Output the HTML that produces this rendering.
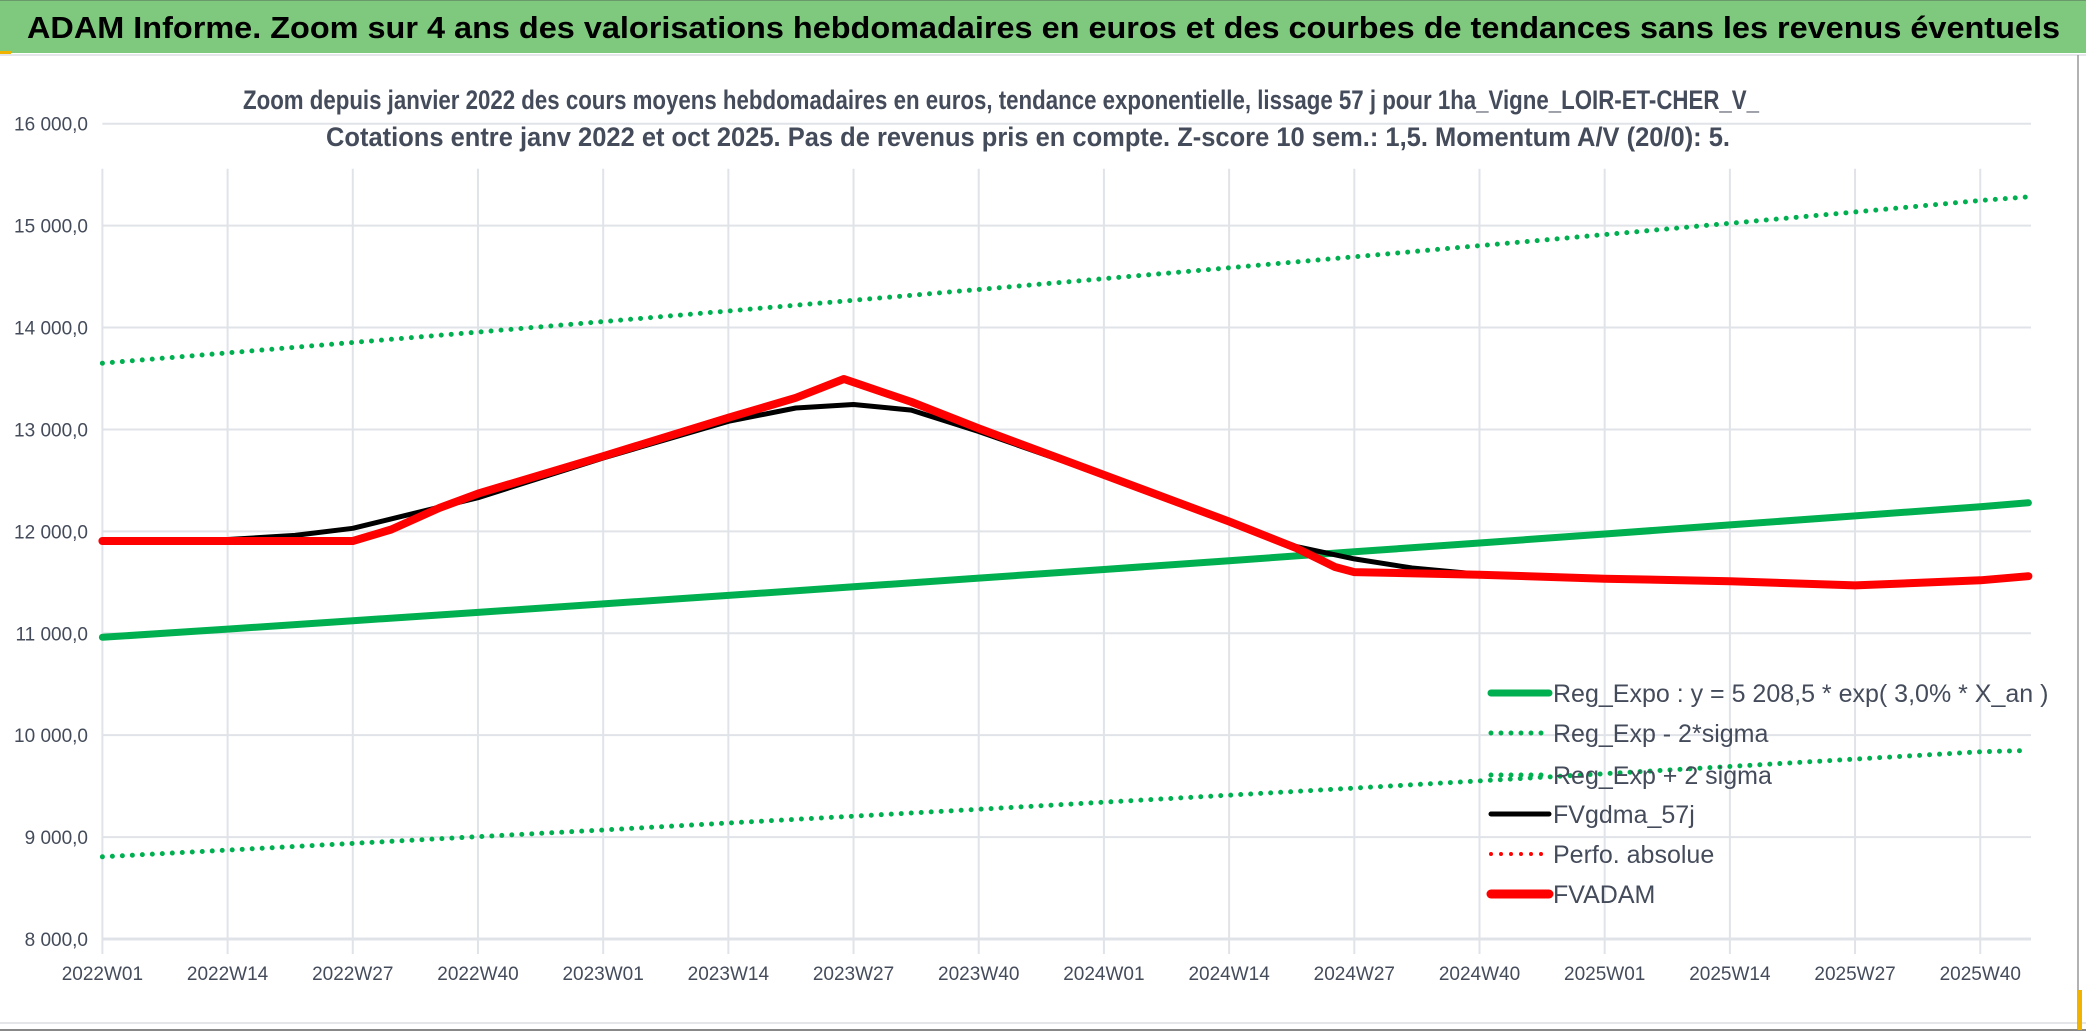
<!DOCTYPE html>
<html><head><meta charset="utf-8"><style>
html,body{margin:0;padding:0;background:#fff}
svg{display:block}
text{font-family:"Liberation Sans",sans-serif}
</style></head><body>
<svg id="chart" width="2086" height="1031" viewBox="0 0 2086 1031" xmlns="http://www.w3.org/2000/svg">
<rect x="0" y="0" width="2086" height="53" fill="#7fc97f"/>
<line x1="0" y1="0.5" x2="2086" y2="0.5" stroke="#6a9a6a" stroke-width="1"/>
<rect x="0" y="51" width="11" height="3" fill="#f0b400"/>
<line x1="0" y1="55" x2="2086" y2="55" stroke="#e4e6ea" stroke-width="2"/>
<text x="27" y="38" font-size="31" font-weight="bold" fill="#000" textLength="2033" lengthAdjust="spacingAndGlyphs">ADAM Informe. Zoom sur 4 ans des valorisations hebdomadaires en euros et des courbes de tendances sans les revenus éventuels</text>
<text x="243" y="109" font-size="27" font-weight="bold" fill="#444b5a" textLength="1516" lengthAdjust="spacingAndGlyphs">Zoom depuis janvier 2022 des cours moyens hebdomadaires en euros, tendance exponentielle, lissage 57 j pour 1ha_Vigne_LOIR-ET-CHER_V_</text>
<text x="326" y="146" font-size="27" font-weight="bold" fill="#444b5a" textLength="1404" lengthAdjust="spacingAndGlyphs">Cotations entre janv 2022 et oct 2025. Pas de revenus pris en compte. Z-score 10 sem.: 1,5. Momentum A/V (20/0): 5.</text>
<g id="grid"></g>
<g id="axes"></g>
<g id="series"></g>
<g id="legend"></g>
<line x1="0" y1="1023" x2="2086" y2="1023" stroke="#e4e6ea" stroke-width="2"/>
<line x1="0" y1="1030" x2="2086" y2="1030" stroke="#888" stroke-width="2"/>
<line x1="2078" y1="55" x2="2078" y2="1030" stroke="#999" stroke-width="1.5"/>
<rect x="2078" y="990" width="4" height="40" fill="#f0b400"/>
</svg>
<script>
const weekLabels=["2022W01","2022W14","2022W27","2022W40","2023W01","2023W14","2023W27","2023W40","2024W01","2024W14","2024W27","2024W40","2025W01","2025W14","2025W27","2025W40"];
const yTicks=[8000,9000,10000,11000,12000,13000,14000,15000,16000];
const yTickLabels=["8 000,0","9 000,0","10 000,0","11 000,0","12 000,0","13 000,0","14 000,0","15 000,0","16 000,0"];
const bandWeeks=[0,13,26,39,52,65,78,91,104,117,130,143,156,169,182,195,200];
const regExpo=[10960,11041,11123,11205,11288,11372,11456,11541,11626,11712,11799,11886,11974,12063,12152,12242,12280];
const regUpper=[13650,13751,13853,13955,14058,14162,14267,14373,14479,14586,14694,14803,14912,15023,15134,15246,15282];
const regLower=[8807,8872,8938,9004,9070,9138,9205,9273,9342,9411,9481,9551,9622,9693,9765,9837,9850];
const adamWeeks=[0,13,26,30,35,39,52,65,72,77,84,91,104,117,124,128,130,143,156,169,182,195,200];
const fvadam=[11905,11905,11905,12018,12230,12370,12737,13115,13310,13495,13270,13010,12554,12097,11835,11650,11600,11575,11535,11510,11470,11520,11560];
const gdmaWeeks=[0,10,13,20,26,39,52,65,72,78,84,91,104,117,124,130,136,143,156,169,182,195,200];
const fvgdma=[11905,11910,11920,11960,12030,12330,12720,13080,13210,13245,13190,12980,12550,12100,11850,11730,11640,11580,11540,11500,11480,11510,11550];

const L=102.4,R=2031,T=123.7,B=939,W=9.63;
const x=i=>L+i*W;
const y=v=>B-(v-8000)/8000*(B-T);
const NS="http://www.w3.org/2000/svg";
function mk(tag,attrs,parent){const e=document.createElementNS(NS,tag);for(const k in attrs)e.setAttribute(k,attrs[k]);parent.appendChild(e);return e;}
const grid=document.getElementById('grid'),axes=document.getElementById('axes'),ser=document.getElementById('series'),leg=document.getElementById('legend');
yTicks.forEach((v,k)=>{
  const g=mk('line',{x1:L,x2:R,y1:y(v),y2:y(v),stroke:'#e0e3e8','stroke-width':(k===0?3:2)},grid);
  
  
  const t=mk('text',{x:88,y:y(v)+7,'font-size':19,fill:'#444b5a','text-anchor':'end'},axes);
  
  
  t.textContent=yTickLabels[k];
});
weekLabels.forEach((lab,k)=>{
  const xi=x(k*13);
  const g=mk('line',{x1:xi,x2:xi,y1:T+45,y2:B+15,stroke:'#e0e3e8','stroke-width':2},grid);
  
  
  const t=mk('text',{x:xi,y:980,'font-size':19,fill:'#444b5a','text-anchor':'middle'},axes);
  
  
  t.textContent=lab;
});
function path(ws,vs){return ws.map((w,i)=>(i?'L':'M')+x(w).toFixed(1)+' '+y(vs[i]).toFixed(1)).join(' ');}
const dot={'stroke-dasharray':'0 10','stroke-linecap':'round'};
function line(name,ws,vs,color,wd,dotted){
  const a={d:path(ws,vs),fill:'none',stroke:color,'stroke-width':wd,'stroke-linejoin':'round','stroke-linecap':'round'};
  if(dotted)Object.assign(a,dot);
  const p=mk('path',a,ser);
  
  
}
line('reg-exp-upper-line',bandWeeks,regUpper,'#00b050',5,true);
line('reg-exp-lower-line',bandWeeks,regLower,'#00b050',5,true);
line('reg-expo-line',bandWeeks,regExpo,'#00b050',7,false);
line('perfo-absolue-line',adamWeeks,fvadam,'#ff0000',4,true);
line('fvgdma-line',gdmaWeeks,fvgdma,'#000000',5,false);
line('fvadam-line',adamWeeks,fvadam,'#ff0000',8,false);
const legItems=[["Reg_Expo : y = 5 208,5 * exp( 3,0% *  X_an )",'#00b050',7,false],["Reg_Exp - 2*sigma",'#00b050',5,true],["Reg_Exp + 2 sigma",'#00b050',5,true],["FVgdma_57j",'#000',5,false],["Perfo. absolue",'#ff0000',4,true],["FVADAM",'#ff0000',9,false]];
const legY=[693,733,775,814,854,894];
legItems.forEach((it,k)=>{
  const g=mk('g',{},leg);
  
  
  const a={x1:1491,x2:1549,y1:legY[k],y2:legY[k],stroke:it[1],'stroke-width':it[2],'stroke-linecap':'round'};
  if(it[3])Object.assign(a,dot);
  mk('line',a,g);
  const t=mk('text',{x:1553,y:legY[k]+9,'font-size':25,fill:'#444b5a'},g);
  t.textContent=it[0];
});
</script>
</body></html>
